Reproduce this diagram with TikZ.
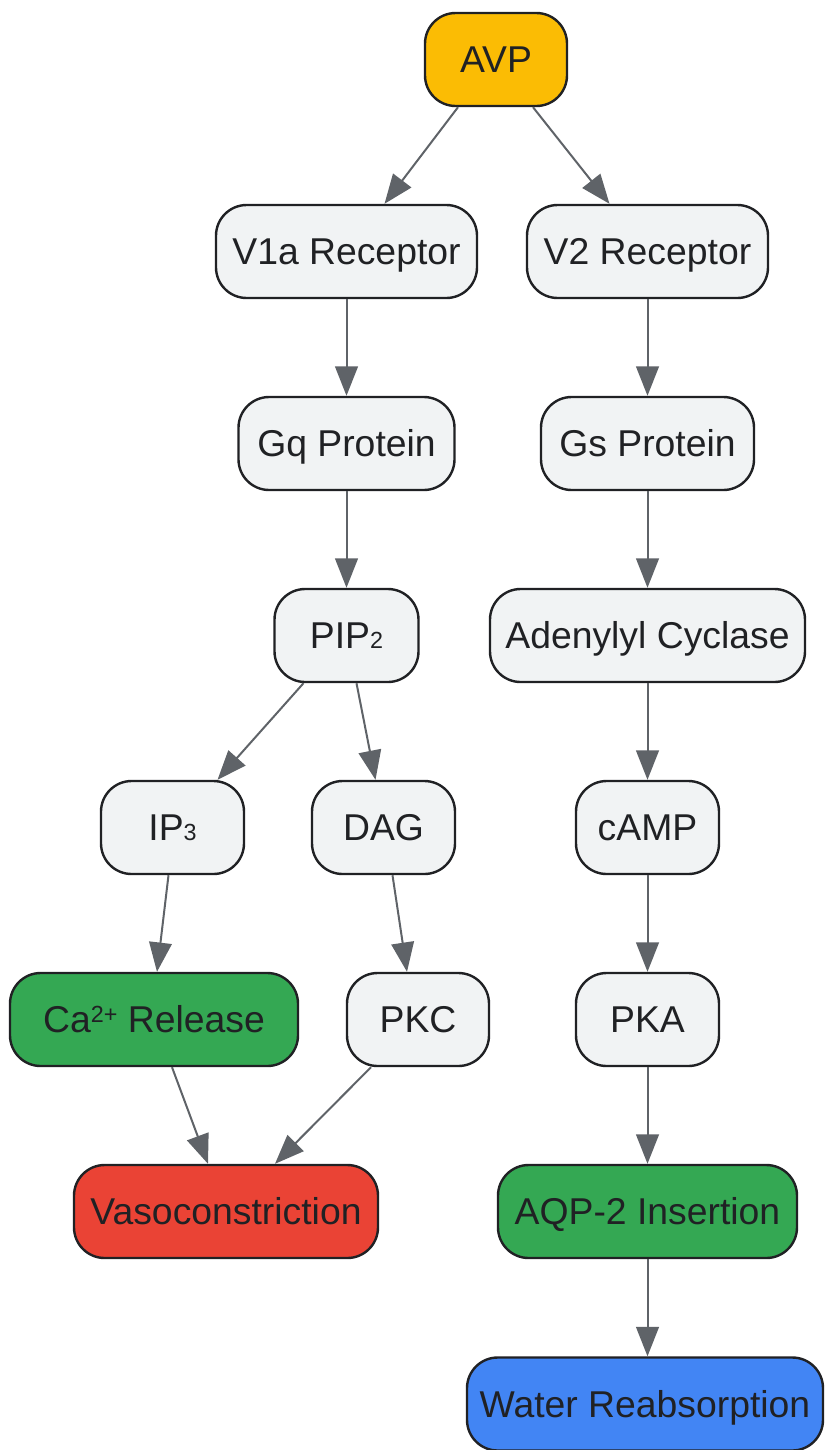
\documentclass[tikz,border=0pt]{standalone}
\usepackage{fontspec}
\setmainfont{Liberation Sans}
\usetikzlibrary{arrows.meta,calc}
\definecolor{nodefill}{HTML}{F1F3F4}
\definecolor{nodeborder}{HTML}{202124}
\definecolor{arrowgray}{HTML}{5F6368}
\definecolor{txt}{HTML}{202124}
\definecolor{gyellow}{HTML}{FBBC04}
\definecolor{ggreen}{HTML}{34A853}
\definecolor{gred}{HTML}{EA4335}
\definecolor{gblue}{HTML}{4285F4}
\newcommand{\mysub}[1]{{\fontsize{17.5}{17.5}\selectfont #1}}
\newcommand{\mysup}[1]{\raisebox{7.5pt}{\fontsize{17.5}{17.5}\selectfont #1}}
\begin{document}
\begin{tikzpicture}[x=0.75pt,y=-0.75pt,
  box/.style={draw=nodeborder, line width=1.8pt, fill=nodefill, rounded corners=23pt,
    minimum height=93*0.75pt, inner sep=0pt, text=txt,
    text height=20pt, text depth=0pt,
    font=\fontsize{28}{30}\selectfont},
  conn/.style={draw=arrowgray, line width=1.5pt,
    -{Triangle[length=22pt,width=17pt]}}]
\useasboundingbox (0,0) rectangle (825,1450);
\clip (0,0) rectangle (825,1450);
\node[box, fill=gyellow, minimum width=142*0.75pt] (avp) at (496,59.5) {AVP};
\node[box, minimum width=261*0.75pt] (v1a) at (346.5,251.5) {V1a Receptor};
\node[box, minimum width=241*0.75pt] (v2) at (647.5,251.5) {V2 Receptor};
\node[box, minimum width=216*0.75pt] (gq) at (346.5,443.5) {Gq Protein};
\node[box, minimum width=213*0.75pt] (gs) at (647.5,443.5) {Gs Protein};
\node[box, minimum width=144*0.75pt] (pip) at (346.5,635.5) {PIP\mysub{2}};
\node[box, minimum width=315*0.75pt] (ac) at (647.5,635.5) {Adenylyl Cyclase};
\node[box, minimum width=143*0.75pt] (ip3) at (172.5,827.5) {IP\mysub{3}};
\node[box, minimum width=143*0.75pt] (dag) at (383.5,827.5) {DAG};
\node[box, minimum width=143*0.75pt] (camp) at (647.5,827.5) {cAMP};
\node[box, fill=ggreen, minimum width=288*0.75pt] (ca) at (154,1019.5) {Ca\mysup{2+} Release};
\node[box, minimum width=142*0.75pt] (pkc) at (418,1019.5) {PKC};
\node[box, minimum width=143*0.75pt] (pka) at (647.5,1019.5) {PKA};
\node[box, fill=gred, minimum width=304*0.75pt] (vaso) at (226,1211.5) {Vasoconstriction};
\node[box, fill=ggreen, minimum width=299*0.75pt] (aqp) at (647.5,1211.5) {AQP-2 Insertion};
\node[box, fill=gblue, minimum width=356*0.75pt] (water) at (645,1404) {Water Reabsorption};

\draw[conn] ($(avp.south)+(-38,0)$) -- ($(v1a.north)+(38,0)$);
\draw[conn] ($(avp.south)+(37,0)$) -- ($(v2.north)+(-38,0)$);
\draw[conn] (v1a.south) -- (gq.north);
\draw[conn] (v2.south) -- (gs.north);
\draw[conn] (gq.south) -- (pip.north);
\draw[conn] (gs.south) -- (ac.north);
\draw[conn] ($(pip.south)+(-43,0)$) -- ($(ip3.north)+(45,0)$);
\draw[conn] ($(pip.south)+(10,0)$) -- ($(dag.north)+(-8,0)$);
\draw[conn] (ac.south) -- (camp.north);
\draw[conn] ($(ip3.south)+(-4,0)$) -- ($(ca.north)+(3,0)$);
\draw[conn] ($(dag.south)+(9,0)$) -- ($(pkc.north)+(-11,0)$);
\draw[conn] (camp.south) -- (pka.north);
\draw[conn] ($(ca.south)+(18,0)$) -- ($(vaso.north)+(-18,0)$);
\draw[conn] ($(pkc.south)+(-47,0)$) -- ($(vaso.north)+(49,0)$);
\draw[conn] (pka.south) -- (aqp.north);
\draw[conn] (aqp.south) -- ($(water.north)+(2.5,0)$);
\end{tikzpicture}
\end{document}
